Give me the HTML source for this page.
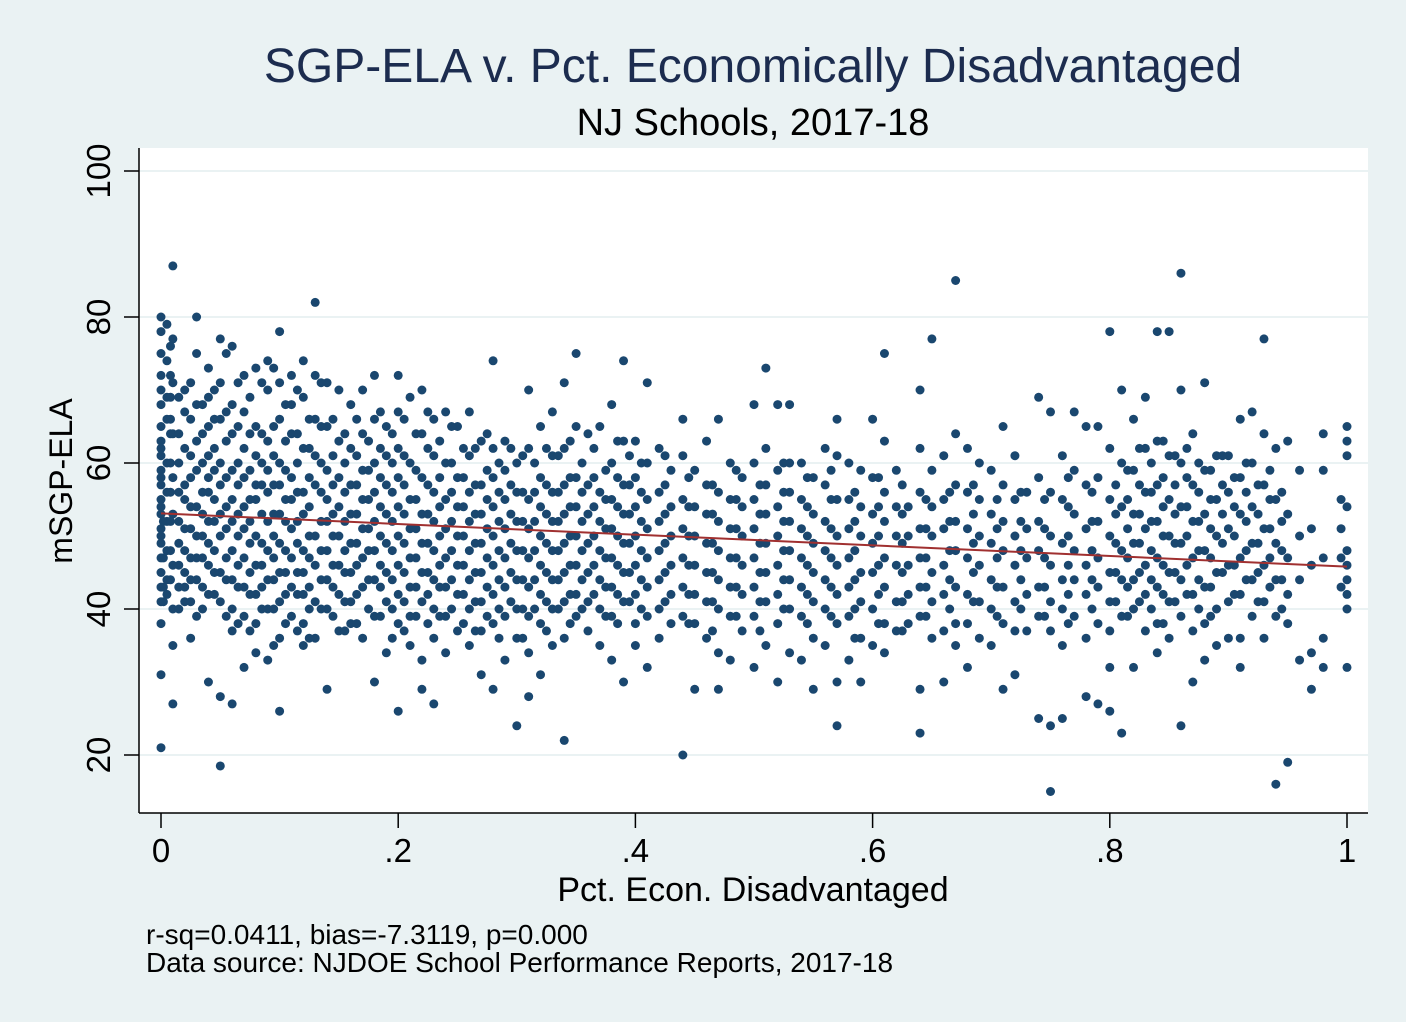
<!DOCTYPE html>
<html><head><meta charset="utf-8"><style>
html,body{margin:0;padding:0;background:#eaf2f3;}
svg{display:block;font-family:"Liberation Sans",sans-serif;}
</style></head><body>
<svg id="chart" width="1406" height="1022" viewBox="0 0 1406 1022">
<rect x="0" y="0" width="1406" height="1022" fill="#eaf2f3"/>
<text x="753" y="82" text-anchor="middle" font-size="48" fill="#1c2c4f">SGP-ELA v. Pct. Economically Disadvantaged</text>
<text x="753" y="135" text-anchor="middle" font-size="38" fill="#000">NJ Schools, 2017-18</text>
<rect x="139" y="148" width="1229" height="665" fill="#fff"/>
<g id="grid"></g>
<g id="dots"></g>
<line id="fit" stroke="#a03030" stroke-width="2"/>
<line x1="139" y1="148" x2="139" y2="813" stroke="#000" stroke-width="1.5"/>
<line x1="139" y1="813" x2="1368" y2="813" stroke="#000" stroke-width="1.5"/>
<g id="yticks"></g>
<g id="xticks"></g>
<text x="753" y="901" text-anchor="middle" font-size="34" fill="#000">Pct. Econ. Disadvantaged</text>
<text transform="translate(72,481) rotate(-90)" text-anchor="middle" font-size="32" fill="#000">mSGP-ELA</text>
<text x="146" y="944" font-size="28" fill="#000">r-sq=0.0411, bias=-7.3119, p=0.000</text>
<text x="146" y="972" font-size="28" fill="#000">Data source: NJDOE School Performance Reports, 2017-18</text>
</svg>
<script>
const yTicks=[20,40,60,80,100];
const xTicks=[0,0.2,0.4,0.6,0.8,1];
const xTickLabels=["0",".2",".4",".6",".8","1"];
const fitStart=[0,53.1];
const fitEnd=[1,45.8];
const xGroups=[0,0.005,0.01,0.02,0.03,0.04,0.05,0.06,0.07,0.08,0.09,0.10,0.11,0.12,0.13,0.14,0.15,0.16,0.17,0.18,0.19,0.20,0.21,0.22,0.23,0.24,0.25,0.26,0.27,0.28,0.29,0.30,0.31,0.32,0.33,0.34,0.35,0.36,0.37,0.38,0.39,0.40,0.41,0.42,0.43,0.44,0.45,0.46,0.47,0.48,0.49,0.50,0.51,0.52,0.53,0.54,0.55,0.56,0.57,0.58,0.59,0.60,0.61,0.62,0.63,0.64,0.65,0.66,0.67,0.68,0.69,0.70,0.71,0.72,0.73,0.74,0.75,0.76,0.77,0.78,0.79,0.80,0.81,0.82,0.83,0.84,0.85,0.86,0.87,0.88,0.89,0.90,0.91,0.92,0.93,0.94,0.95,0.96,0.97,0.98,1.00,
0.015,0.025,0.035,0.045,0.055,0.065,0.075,0.085,0.095,0.105,0.115,0.125,0.135,0.145,0.155,0.165,0.175,0.185,0.195,0.205,0.215,0.225,0.235,0.245,0.255,0.265,0.275,0.285,0.295,0.305,0.315,0.325,0.335,0.345,0.355,0.365,0.375,0.385,0.395,0.405,0.425,0.445,0.465,0.485,0.505,0.525,0.545,0.565,0.585,0.605,0.625,0.645,0.665,0.685,0.705,0.725,0.745,0.765,0.785,0.805,0.815,0.825,0.835,0.845,0.855,0.865,0.875,0.885,0.895,0.905,0.915,0.925,0.935,0.945,0.995,0.002,0.008];
const yGroups=[
[80,78,75,72,70,68,65,63,61,59,57,55,53,51,49,47,45,43,41,38,31,21,62,58,54,50],
[79,74,69,66,60,56,52,48,44,42],
[87,77,71,64,58,53,46,40,35,27],
[70,67,62,57,55,51,48,45,43,41],
[80,75,68,63,59,54,50,47,44,39],
[73,69,65,61,58,56,52,49,46,42,30],
[77,71,66,60,57,53,50,45,41,28,18.5],
[76,68,64,59,55,52,48,44,40,37,27],
[72,67,62,58,54,51,47,43,39,32],
[73,65,61,57,55,50,46,42,38,34],
[74,70,63,59,56,52,48,44,40,33],
[78,71,66,60,57,53,49,45,41,36,26],
[72,68,64,58,55,51,47,43,39],
[74,69,62,56,53,48,45,42,38,35],
[82,72,66,61,57,50,46,41,36],
[71,65,59,55,52,48,44,40,29],
[70,63,58,54,50,46,42,37],
[68,62,57,53,49,45,41,38],
[70,64,59,55,51,47,43,36],
[72,66,60,56,52,48,44,39,30],
[65,61,57,53,49,45,41,34],
[72,67,62,58,54,50,46,42,38,26],
[69,60,55,51,47,43,39,35],
[70,64,58,53,49,45,41,33,29],
[66,61,56,52,48,44,40,36,27],
[67,60,55,51,47,43,39,34],
[65,58,54,50,46,42,37],
[67,61,56,52,48,44,40,35],
[63,57,53,49,45,41,37,31],
[74,62,58,54,50,46,42,38,29],
[63,59,55,51,47,43,39,33],
[60,56,52,48,44,40,36,24],
[70,62,55,51,47,43,39,34,28],
[65,58,54,50,46,42,38,31],
[67,61,56,52,48,44,40,35],
[71,62,57,53,49,45,41,36,22],
[75,65,58,54,50,46,42,39],
[64,57,53,49,45,41,37],
[65,56,52,48,44,40,35],
[68,60,55,51,47,43,39,33],
[74,63,57,53,49,45,41,30],
[63,58,54,50,46,42,38,35],
[71,60,55,51,47,43,39,32],
[62,56,52,48,44,40,36],
[59,54,50,46,42,38],
[66,61,55,51,47,43,39,20],
[59,54,50,46,42,38,29],
[63,57,53,49,45,41,36],
[66,56,52,48,44,40,34,29],
[60,55,51,47,43,39,33],
[58,54,50,46,42,37],
[68,60,55,51,47,43,39,32],
[73,62,57,53,49,45,41,35],
[68,59,54,50,46,42,38,30],
[68,60,56,52,48,44,40,34],
[60,55,51,47,43,39,33],
[58,53,49,45,41,36,29],
[62,57,52,48,44,40,35],
[66,61,55,50,46,42,38,30,24],
[60,55,51,47,43,39,33],
[59,54,50,45,41,36,30],
[66,58,53,49,45,40,35],
[75,63,56,52,47,43,38,34],
[59,54,50,46,41,37],
[54,50,46,42,38],
[70,62,56,51,47,43,39,29,23],
[77,59,54,50,45,41,36],
[61,55,51,46,42,37,30],
[85,64,57,52,48,43,38,35],
[62,56,51,47,42,38,32],
[60,55,50,46,41,36],
[59,53,49,44,40,35],
[65,57,52,48,43,38,29],
[61,55,50,46,41,37,31],
[56,51,47,42,37],
[69,58,52,48,43,39,25],
[67,56,50,46,41,37,24,15],
[61,55,49,44,40,35,25],
[67,59,53,48,44,39],
[65,57,51,46,42,36,28],
[65,58,52,47,43,38,27],
[78,62,55,50,45,41,37,32,26],
[70,60,54,48,44,39,23],
[66,59,53,49,44,40,32],
[69,62,56,51,46,42,37],
[78,63,57,52,47,43,38,34],
[78,61,55,50,45,41,36],
[86,70,60,54,49,44,39,24],
[64,57,52,47,42,37,30],
[71,59,53,48,43,38,33],
[61,55,50,45,40,35],
[61,56,51,46,41,36],
[66,58,53,47,42,36,32],
[67,60,54,49,44,39],
[77,64,57,51,46,41,36],
[62,55,49,44,39,16],
[63,53,47,42,38,19],
[59,50,44,33],
[51,46,34,29],
[64,59,47,36,32],
[65,63,61,54,48,46,44,42,40,32],
[69,64,60,56,52,49,46,43,40],
[71,66,61,58,54,51,47,44,41,36],
[68,64,60,56,53,50,47,43,40],
[70,66,62,59,55,52,48,45,42],
[75,67,63,58,54,51,47,44,39],
[71,65,60,57,53,50,46,43,38],
[69,64,59,55,52,49,45,42,37],
[71,64,60,57,53,49,46,43,40],
[73,65,61,57,53,50,47,44,40,35],
[68,63,59,55,52,48,45,42,38],
[70,64,60,56,52,49,45,42,37],
[66,62,58,54,50,47,43,40,36],
[71,65,60,56,52,48,44,40],
[66,61,57,53,50,46,43,39],
[64,60,56,52,48,45,41,37],
[66,61,57,53,49,46,42,38],
[63,59,55,51,48,44,40],
[67,62,58,54,50,46,43,39],
[64,60,56,52,48,44,40,36],
[66,61,57,53,49,45,41,37],
[64,59,55,51,47,43,39],
[67,62,57,53,49,45,42,38],
[63,58,54,50,46,43,39],
[65,60,56,52,48,44,40],
[62,58,54,50,46,42,38],
[62,57,53,49,45,41,37],
[64,59,55,51,47,43,39],
[60,56,52,48,44,40,36],
[62,57,53,49,45,41],
[61,56,52,48,44,40,36],
[60,56,52,48,44,40],
[62,57,53,49,45,41,37],
[61,56,52,48,44,40],
[63,58,54,50,46,42,38],
[60,56,52,48,44,40],
[62,58,54,50,46,42],
[59,55,51,47,43,39],
[63,58,54,50,46,42,38],
[61,57,53,49,45,41],
[60,56,52,48,44,40],
[61,57,53,49,45,41],
[58,54,50,46,42,38],
[57,53,49,45,41,37],
[59,55,51,47,43,39],
[57,53,49,45,41,37],
[60,56,52,48,44,40],
[58,54,50,46,42,38],
[59,55,51,47,43,39],
[56,52,48,44,40,36],
[58,54,50,46,42,38],
[57,53,49,45,41,37],
[55,51,47,43,39],
[56,52,48,44,40],
[57,53,49,45,41],
[55,51,47,43,39],
[56,52,48,44,40],
[55,51,47,43,39],
[58,54,50,46,42,38],
[56,52,48,44,40],
[57,53,49,45,41],
[59,55,51,47,43,39],
[62,57,53,49,45,41],
[60,56,52,48,44,40],
[63,58,54,50,46,42,38],
[61,57,53,49,45,41],
[62,58,54,50,46,42],
[60,56,52,48,44,40],
[59,55,51,47,43,39],
[61,57,53,49,45],
[58,54,50,46,42],
[60,56,52,48,44],
[57,53,49,45,41],
[59,55,51,47,43],
[56,52,48,44,40],
[55,51,47,43],
[52,47,43,41],
[76,72,69,66,64,60,56,52,48,44],
[74,71,67,62,58,55,51,47,45]
];
const NS='http://www.w3.org/2000/svg';
function sx(v){return 161+v*(1347-161);}
function sy(v){return 755-(v-20)*7.3;}
const grid=document.getElementById('grid');
const yt=document.getElementById('yticks');
yTicks.forEach(t=>{
  const g=document.createElementNS(NS,'line');
  
  
  g.setAttribute('x1',139);g.setAttribute('x2',1368);g.setAttribute('y1',sy(t));g.setAttribute('y2',sy(t));
  g.setAttribute('stroke','#eaf2f3');g.setAttribute('stroke-width','2');
  grid.appendChild(g);
  const tk=document.createElementNS(NS,'line');
  
  
  tk.setAttribute('x1',124);tk.setAttribute('x2',139);tk.setAttribute('y1',sy(t));tk.setAttribute('y2',sy(t));
  tk.setAttribute('stroke','#000');tk.setAttribute('stroke-width','1.5');
  yt.appendChild(tk);
  const lb=document.createElementNS(NS,'text');
  
  
  lb.setAttribute('transform','translate(110,'+sy(t)+') rotate(-90)');
  lb.setAttribute('text-anchor','middle');lb.setAttribute('font-size','33');
  lb.textContent=t;
  yt.appendChild(lb);
});
const xt=document.getElementById('xticks');
xTicks.forEach((t,i)=>{
  const tk=document.createElementNS(NS,'line');
  
  
  tk.setAttribute('x1',sx(t));tk.setAttribute('x2',sx(t));tk.setAttribute('y1',813);tk.setAttribute('y2',828);
  tk.setAttribute('stroke','#000');tk.setAttribute('stroke-width','1.5');
  xt.appendChild(tk);
  const lb=document.createElementNS(NS,'text');
  
  
  lb.setAttribute('x',sx(t));lb.setAttribute('y',862);
  lb.setAttribute('text-anchor','middle');lb.setAttribute('font-size','33');
  lb.textContent=xTickLabels[i];
  xt.appendChild(lb);
});
const dots=document.getElementById('dots');
xGroups.forEach((x,i)=>{
  yGroups[i].forEach(y=>{
    const c=document.createElementNS(NS,'circle');
    
    
    c.setAttribute('cx',sx(x));c.setAttribute('cy',sy(y));c.setAttribute('r',4.5);
    c.setAttribute('fill','#1a476f');
    dots.appendChild(c);
  });
});
const fit=document.getElementById('fit');
fit.setAttribute('x1',sx(fitStart[0]));fit.setAttribute('y1',sy(fitStart[1]));
fit.setAttribute('x2',sx(fitEnd[0]));fit.setAttribute('y2',sy(fitEnd[1]));
</script>
</body></html>
